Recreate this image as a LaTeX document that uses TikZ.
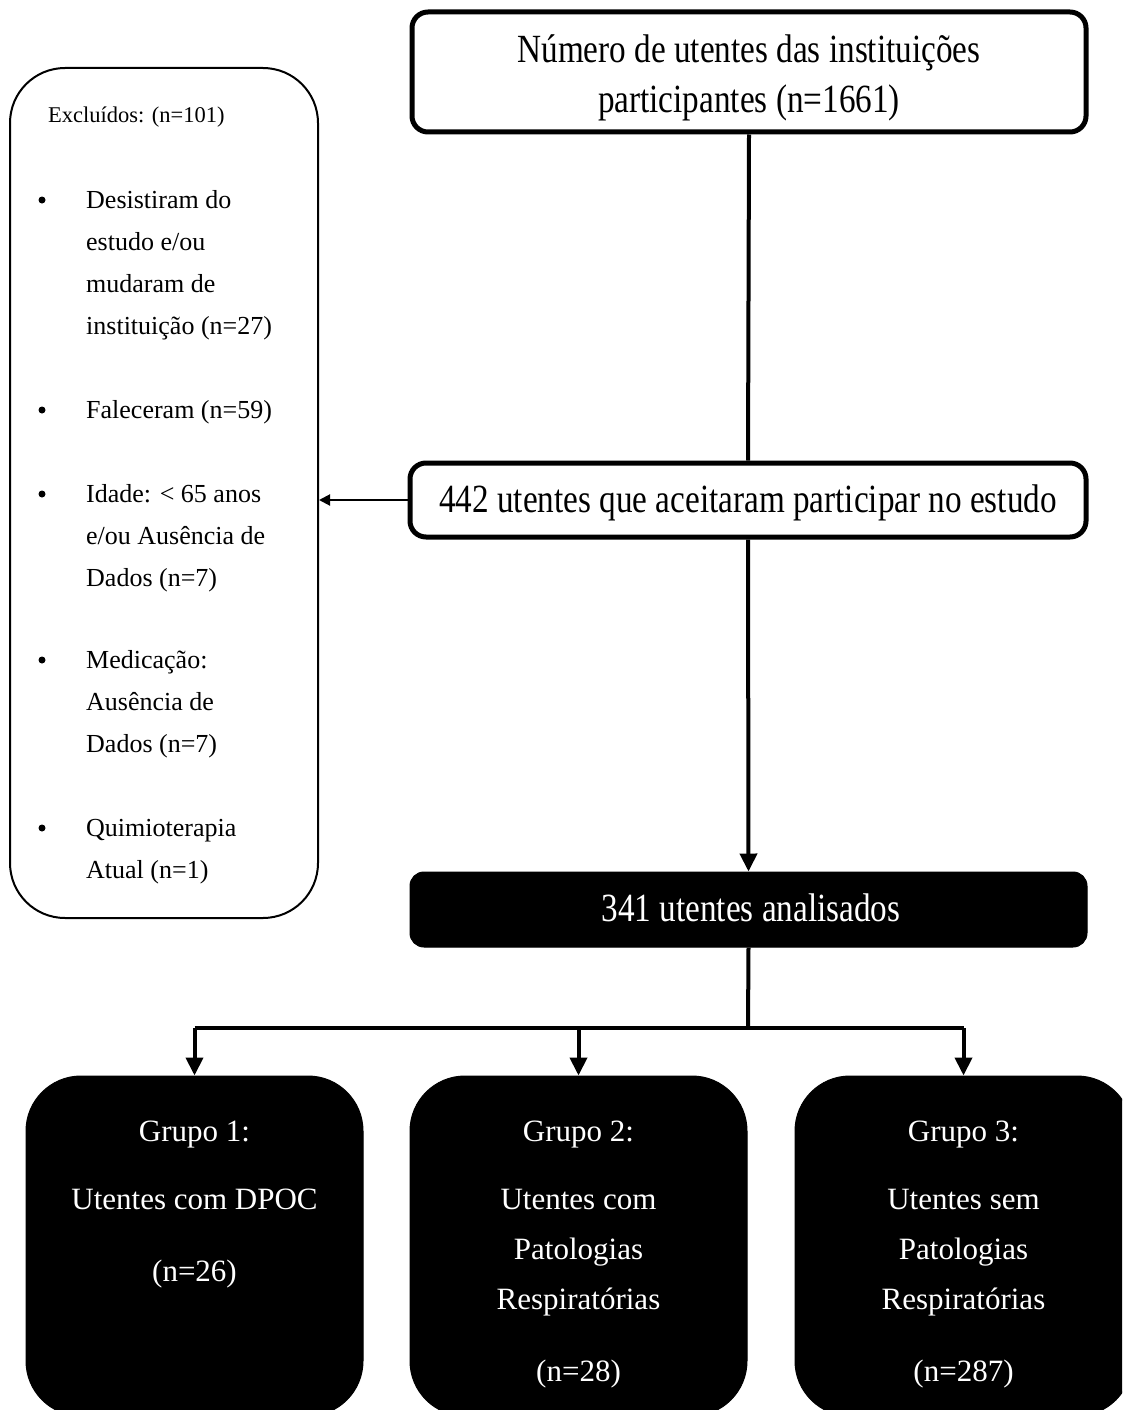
\documentclass[tikz,border=0pt]{standalone}
\usepackage{fontspec}
\setmainfont{Liberation Serif}
\newfontfamily\condf[FakeStretch=0.83]{Liberation Serif}
\newfontfamily\widef{Liberation Serif}
\usetikzlibrary{arrows.meta}
\begin{document}
\begin{tikzpicture}[x=1pt,y=-1pt,
  wbox/.style={draw=black,fill=white,line width=5pt,rounded corners=16pt,inner sep=0pt},
  bbox/.style={draw=black,fill=black,line width=1pt,rounded corners=14pt,inner sep=0pt},
  gbox/.style={draw=black,fill=black,line width=1pt,rounded corners=55pt,inner sep=0pt,minimum width=337pt,minimum height=340pt},
  lbox/.style={draw=black,fill=white,line width=2pt,rounded corners=55pt,inner sep=0pt},
  ctext/.style={inner sep=0pt,anchor=base,font=\condf\fontsize{40}{48}\selectfont},
  gtext/.style={inner sep=0pt,anchor=base,text=white,font=\widef\fontsize{31}{36}\selectfont},
  ltext/.style={inner sep=0pt,anchor=base west,font=\widef\fontsize{26}{30}\selectfont},
  bul/.style={circle,fill=black,inner sep=0pt,minimum size=7pt},
  conn/.style={line width=4pt},
  carrow/.style={line width=4pt,-{Triangle[length=18pt,width=17pt]}},
  tarrow/.style={line width=2pt,-{Triangle[length=11pt,width=11pt]}}]
\clip (0,0) rectangle (1122,1410);
\fill[white] (0,0) rectangle (1122,1410);

% boxes
\node[wbox,minimum width=674pt,minimum height=120pt] (top) at (749,72) {};
\node[ctext] (t1) at (749,63) {Número de utentes das instituições};
\node[ctext] (t2) at (749,113) {participantes (n=1661)};

\node[wbox,minimum width=676pt,minimum height=74pt] (mid) at (748,500) {};
\node[ctext] (m1) at (748,512) {442 utentes que aceitaram participar no estudo};

\node[bbox,minimum width=677pt,minimum height=75pt] (ana) at (748.5,909.5) {};
\node[ctext,text=white] (a1) at (751,921) {341 utentes analisados};

\node[lbox,minimum width=308pt,minimum height=850pt] (left) at (164,493) {};

% left box text
\node[ltext,font=\widef\fontsize{22.5}{26}\selectfont] (e0) at (48,123) {Excluídos: (n=101)};
\foreach \yy in {207,417,501,667,835} {\node[bul] at (42,\yy-7) {};}
\node[ltext] (e1) at (86,208) {Desistiram do};
\node[ltext] (e2) at (86,250) {estudo e/ou};
\node[ltext] (e3) at (86,292) {mudaram de};
\node[ltext] (e4) at (86,334) {instituição (n=27)};
\node[ltext] (e5) at (86,418) {Faleceram (n=59)};
\node[ltext] (e6) at (86,502) {Idade: < 65 anos};
\node[ltext] (e7) at (86,544) {e/ou Ausência de};
\node[ltext] (e8) at (86,586) {Dados (n=7)};
\node[ltext] (e9) at (86,668) {Medicação:};
\node[ltext] (e10) at (86,710) {Ausência de};
\node[ltext] (e11) at (86,752) {Dados (n=7)};
\node[ltext] (e12) at (86,836) {Quimioterapia};
\node[ltext] (e13) at (86,878) {Atual (n=1)};

% group boxes
\node[gbox] (g1) at (194.5,1246) {};
\node[gbox] (g2) at (578.5,1246) {};
\node[gbox] (g3) at (963.5,1246) {};

\node[gtext] (g1a) at (194.5,1141) {Grupo 1:};
\node[gtext] (g1b) at (194.5,1209) {Utentes com DPOC};
\node[gtext] (g1c) at (194.5,1281) {(n=26)};

\node[gtext] (g2a) at (578.5,1141) {Grupo 2:};
\node[gtext] (g2b) at (578.5,1209) {Utentes com};
\node[gtext] (g2c) at (578.5,1259) {Patologias};
\node[gtext] (g2d) at (578.5,1309) {Respiratórias};
\node[gtext] (g2e) at (578.5,1381) {(n=28)};

\node[gtext] (g3a) at (963.5,1141) {Grupo 3:};
\node[gtext] (g3b) at (963.5,1209) {Utentes sem};
\node[gtext] (g3c) at (963.5,1259) {Patologias};
\node[gtext] (g3d) at (963.5,1309) {Respiratórias};
\node[gtext] (g3e) at (963.5,1381) {(n=287)};

% connectors
\draw[conn] (top.south) -- (mid.north);
\draw[tarrow] (mid.west) -- (mid.west -| left.east);
\draw[carrow] (mid.south) -- (ana.north);
\coordinate (split) at (748,1028);
\draw[conn] (ana.south) -- (split);
\draw[conn] (split -| g1.north) -- (split -| g3.north);
\draw[carrow] (split -| g1.north) -- (g1.north);
\draw[carrow] (split -| g2.north) -- (g2.north);
\draw[carrow] (split -| g3.north) -- (g3.north);
\end{tikzpicture}
\end{document}
